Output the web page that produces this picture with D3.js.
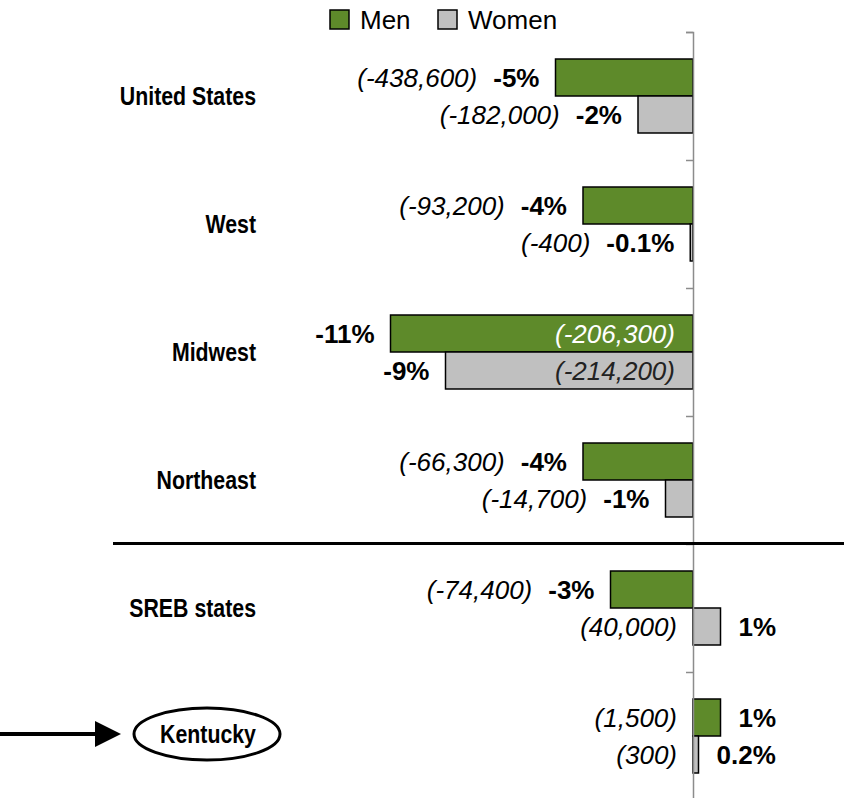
<!DOCTYPE html>
<html>
<head>
<meta charset="utf-8">
<script src="https://cdn.jsdelivr.net/npm/d3@7"></script>
<style>
  body { margin: 0; background: #fff; }
  text { font-family: "Liberation Sans", Arial, sans-serif; }
  .cat { font-weight: bold; font-size: 26px; }
</style>
</head>
<body>
<script>
// data
const regions = ["United States", "West", "Midwest", "Northeast", "SREB states", "Kentucky"];
const menPct = [-5, -4, -11, -4, -3, 1];
const womenPct = [-2, -0.1, -9, -1, 1, 0.2];
const menCount = [-438600, -93200, -206300, -66300, -74400, 1500];
const womenCount = [-182000, -400, -214200, -14700, 40000, 300];
const seriesNames = ["Men", "Women"];
const seriesColors = ["#5e8a2a", "#c0c0c0"];

const width = 844, height = 798;
const zeroX = 693;
const narrow = 0.82; // condensed look for the category labels

const svg = d3.select("body").append("svg").attr("width", width).attr("height", height);

const x = d3.scaleLinear().domain([-11, 0]).range([390.5, zeroX]);
const y = d3.scaleBand().domain(regions).range([32, 800]);
const ySub = d3.scaleBand().domain(seriesNames).range([0, y.bandwidth()]).paddingOuter(0.73);
const color = d3.scaleOrdinal().domain(seriesNames).range(seriesColors);

const fmt = d3.formatLocale({ decimal: ".", thousands: ",", grouping: [3], currency: ["$", ""], minus: "-" }).format(",");

const rows = regions.flatMap((r, i) => [
  { region: r, series: "Men", pct: menPct[i], count: menCount[i] },
  { region: r, series: "Women", pct: womenPct[i], count: womenCount[i] },
]);

// bars
svg.append("g")
  .selectAll("rect")
  .data(rows)
  .join("rect")
  .attr("x", (d) => Math.min(x(0), x(d.pct)))
  .attr("y", (d) => y(d.region) + ySub(d.series))
  .attr("width", (d) => Math.abs(x(d.pct) - x(0)))
  .attr("height", ySub.bandwidth())
  .attr("fill", (d) => color(d.series))
  .attr("stroke", "#000")
  .attr("stroke-width", 1.5);

// axis at zero
const yIdx = d3.scaleLinear().domain([0, regions.length]).range([32, 800]);
const axis = svg.append("g")
  .attr("transform", `translate(${x(0)},0)`)
  .call(d3.axisLeft(yIdx).tickValues(d3.range(regions.length + 1)).tickSize(7).tickFormat(""));
axis.selectAll("path, line").attr("stroke", "#8c8c8c").attr("stroke-width", 1.5);

// value labels
const gap = 16;
const labels = svg.append("g");
rows.forEach((d) => {
  const cy = y(d.region) + ySub(d.series) + ySub.bandwidth() / 2;
  const pctText = d.pct + "%";
  const cntText = "(" + fmt(d.count) + ")";
  let pctX, pctAnchor, cntX, cntFill = "#000";
  if (d.pct >= 0) {
    pctX = x(d.pct) + gap + 2; pctAnchor = "start";
    cntX = x(0) - gap;
  } else if (d.pct <= -8) {
    pctX = x(d.pct) - gap; pctAnchor = "end";
    cntX = x(0) - 18;
    cntFill = d.series === "Men" ? "#fff" : "#222";
  } else {
    pctX = x(d.pct) - gap; pctAnchor = "end";
    cntX = null;
  }
  const p = labels.append("text")
    .attr("x", pctX).attr("y", cy).attr("dy", "0.36em")
    .attr("text-anchor", pctAnchor)
    .attr("font-size", 26).attr("font-weight", "bold")
    .text(pctText);
  if (cntX === null) {
    cntX = pctX - p.node().getComputedTextLength() - gap;
  }
  labels.append("text")
    .attr("x", cntX).attr("y", cy).attr("dy", "0.36em")
    .attr("text-anchor", "end")
    .attr("font-size", 26).attr("font-style", "italic")
    .attr("fill", cntFill)
    .text(cntText);
});

// category labels
svg.append("g")
  .selectAll("text")
  .data(regions.filter((r) => r !== "Kentucky"))
  .join("text")
  .attr("class", "cat")
  .attr("transform", (d) => `translate(256,${y(d) + y.bandwidth() / 2}) scale(${narrow},1)`)
  .attr("dy", "0.36em")
  .attr("text-anchor", "end")
  .text((d) => d);

// highlighted state
const kyY = y("Kentucky") + y.bandwidth() / 2 - 2;
svg.append("ellipse")
  .attr("cx", 207).attr("cy", kyY).attr("rx", 73).attr("ry", 26)
  .attr("fill", "none").attr("stroke", "#000").attr("stroke-width", 3);
svg.append("text")
  .attr("class", "cat")
  .attr("transform", `translate(208,${kyY}) scale(${narrow},1)`)
  .attr("dy", "0.36em")
  .attr("text-anchor", "middle")
  .text("Kentucky");
svg.append("line")
  .attr("x1", 0).attr("x2", 98).attr("y1", kyY).attr("y2", kyY)
  .attr("stroke", "#000").attr("stroke-width", 4);
svg.append("path")
  .attr("d", `M95,${kyY - 13}L121,${kyY}L95,${kyY + 13}Z`)
  .attr("fill", "#000");

// separator between regions and SREB
const sepY = y("SREB states") - 0.5;
svg.append("line")
  .attr("x1", 113).attr("x2", width).attr("y1", sepY).attr("y2", sepY)
  .attr("stroke", "#000").attr("stroke-width", 3);

// legend
const legend = svg.append("g")
  .selectAll("g")
  .data(seriesNames)
  .join("g")
  .attr("transform", (d, i) => `translate(${[330, 438][i]},10)`);
legend.append("rect")
  .attr("width", 19).attr("height", 19)
  .attr("fill", (d) => color(d))
  .attr("stroke", "#000").attr("stroke-width", 1.5);
legend.append("text")
  .attr("x", 30).attr("y", 19).attr("font-size", 26)
  .text((d) => d);
</script>
</body>
</html>
